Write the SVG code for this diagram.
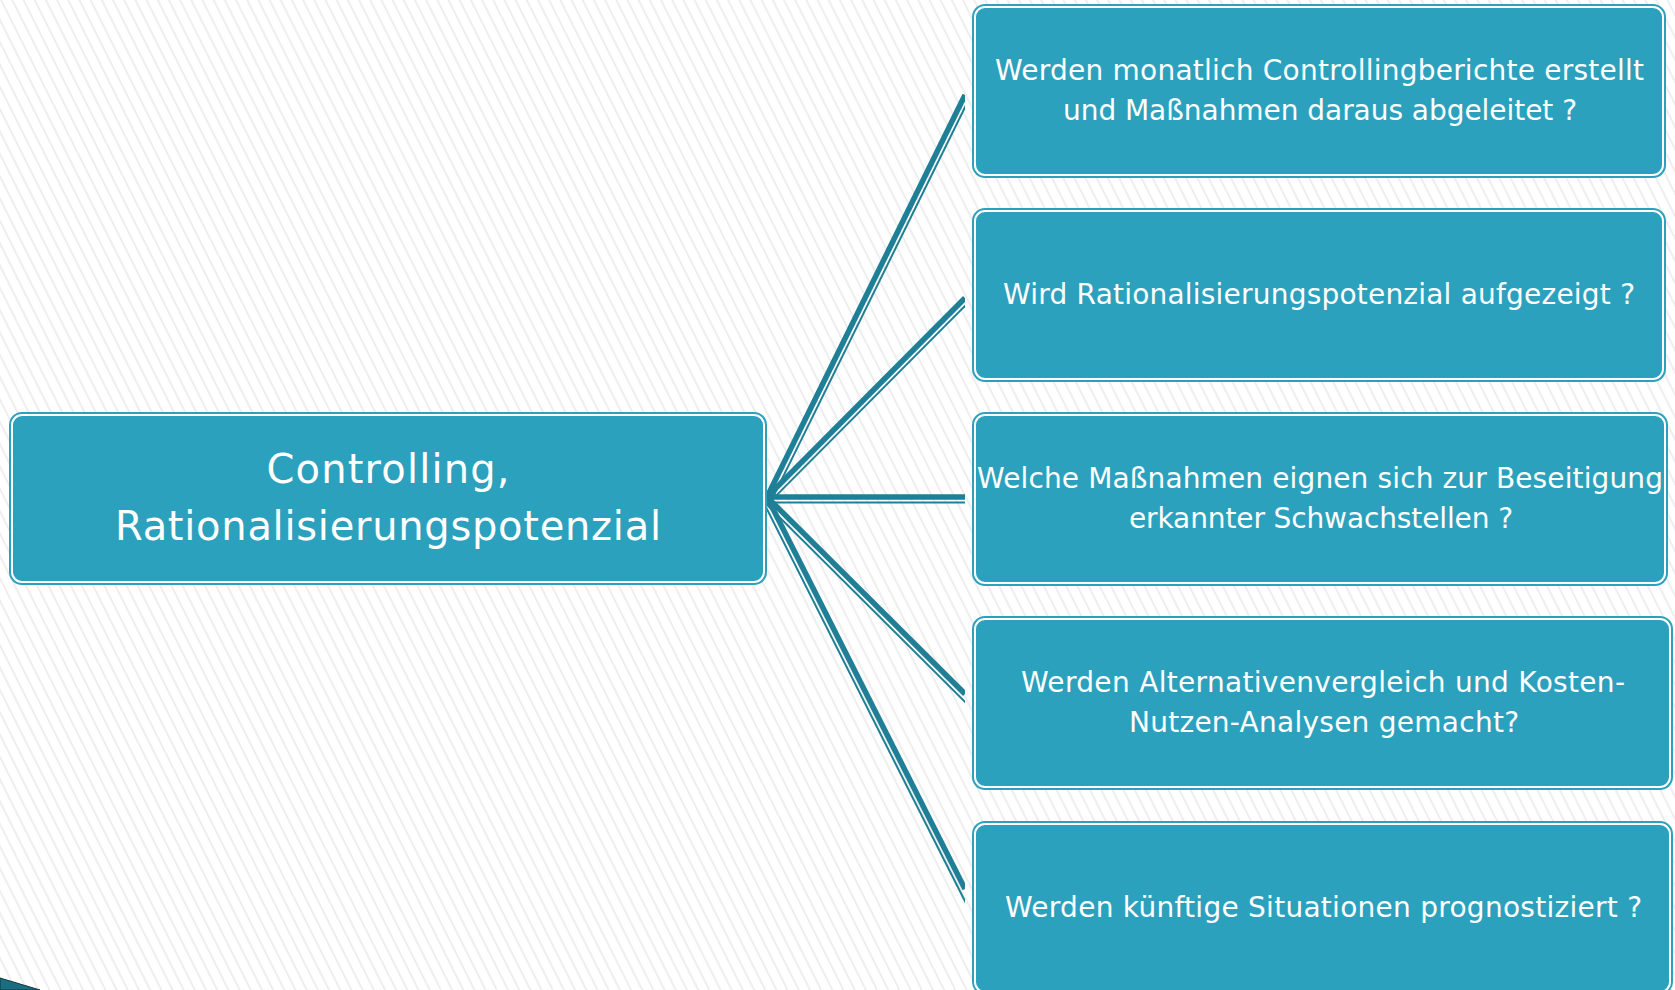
<svg xmlns="http://www.w3.org/2000/svg" width="1675" height="990" viewBox="0 0 1675 990">
<style>
.box{fill:#2ca1bd;}
.inner{fill:#2ca1bd;stroke:#ffffff;stroke-width:2;}
.t{font-family:"DejaVu Sans","Liberation Sans",sans-serif;font-size:28px;fill:#ffffff;text-anchor:middle;}
.tc{font-family:"DejaVu Sans","Liberation Sans",sans-serif;font-size:40px;fill:#ffffff;text-anchor:middle;}
.thick{stroke:#1f7f96;stroke-width:5.5;fill:none;}
.thin{stroke:#1f7f96;stroke-width:2;fill:none;}
</style>
<defs>
<pattern id="stripes" patternUnits="userSpaceOnUse" width="10" height="10" patternTransform="rotate(-26.6)">
<rect x="0" y="0" width="10" height="10" fill="#ffffff"/>
<rect x="0" y="0" width="2" height="10" fill="#eeeeee"/>
</pattern>
<clipPath id="cclip"><rect x="0" y="0" width="965" height="990"/></clipPath>
</defs>
<rect x="0" y="0" width="1675" height="990" fill="url(#stripes)"/>
<polygon points="0,978 40,990 0,990" fill="#1b6e80" stroke="#0d3640" stroke-width="1"/>
<g id="connectors" clip-path="url(#cclip)">
<line class="thick" x1="767" y1="497" x2="965" y2="95"/>
<line class="thin" x1="771.9" y1="499.4" x2="969.9" y2="97.4"/>
<line class="thick" x1="767" y1="497" x2="965" y2="298"/>
<line class="thin" x1="770.9" y1="500.9" x2="968.9" y2="301.9"/>
<line class="thick" x1="767" y1="497" x2="965" y2="497"/>
<line class="thin" x1="767" y1="502.5" x2="968" y2="502.5"/>
<line class="thick" x1="767" y1="497" x2="965" y2="694"/>
<line class="thin" x1="763.1" y1="500.9" x2="967.4" y2="704.2"/>
<line class="thick" x1="767" y1="497" x2="965" y2="889"/>
<line class="thin" x1="762.1" y1="499.5" x2="967" y2="905.3"/>
</g>
<g id="center">
<rect class="box" x="9" y="412" width="758" height="173" rx="13"/>
<rect class="inner" x="12" y="415" width="752" height="167" rx="10"/>
<text class="tc" x="388" y="483" textLength="243" lengthAdjust="spacing">Controlling,</text>
<text class="tc" x="388" y="540" textLength="546" lengthAdjust="spacing">Rationalisierungspotenzial</text>
</g>
<g id="q1">
<rect class="box" x="972" y="4" width="694" height="174" rx="13"/>
<rect class="inner" x="975" y="7" width="688" height="168" rx="10"/>
<text class="t" x="1319.5" y="80" textLength="649" lengthAdjust="spacing">Werden monatlich Controllingberichte erstellt</text>
<text class="t" x="1320" y="120" textLength="514" lengthAdjust="spacing">und Maßnahmen daraus abgeleitet ?</text>
</g>
<g id="q2">
<rect class="box" x="972" y="208" width="694" height="174" rx="13"/>
<rect class="inner" x="975" y="211" width="688" height="168" rx="10"/>
<text class="t" x="1319" y="304" textLength="632" lengthAdjust="spacing">Wird Rationalisierungspotenzial aufgezeigt ?</text>
</g>
<g id="q3">
<rect class="box" x="972" y="412" width="696" height="174" rx="13"/>
<rect class="inner" x="975" y="415" width="690" height="168" rx="10"/>
<text class="t" x="1320" y="488" textLength="686" lengthAdjust="spacing">Welche Maßnahmen eignen sich zur Beseitigung</text>
<text class="t" x="1321" y="528" textLength="384" lengthAdjust="spacing">erkannter Schwachstellen ?</text>
</g>
<g id="q4">
<rect class="box" x="972" y="616" width="701" height="174" rx="13"/>
<rect class="inner" x="975" y="619" width="695" height="168" rx="10"/>
<text class="t" x="1323" y="692" textLength="604" lengthAdjust="spacing">Werden Alternativenvergleich und Kosten-</text>
<text class="t" x="1324" y="732" textLength="390" lengthAdjust="spacing">Nutzen-Analysen gemacht?</text>
</g>
<g id="q5">
<rect class="box" x="972" y="821" width="701" height="174" rx="13"/>
<rect class="inner" x="975" y="824" width="695" height="168" rx="10"/>
<text class="t" x="1323.5" y="917" textLength="637" lengthAdjust="spacing">Werden künftige Situationen prognostiziert ?</text>
</g>
</svg>
